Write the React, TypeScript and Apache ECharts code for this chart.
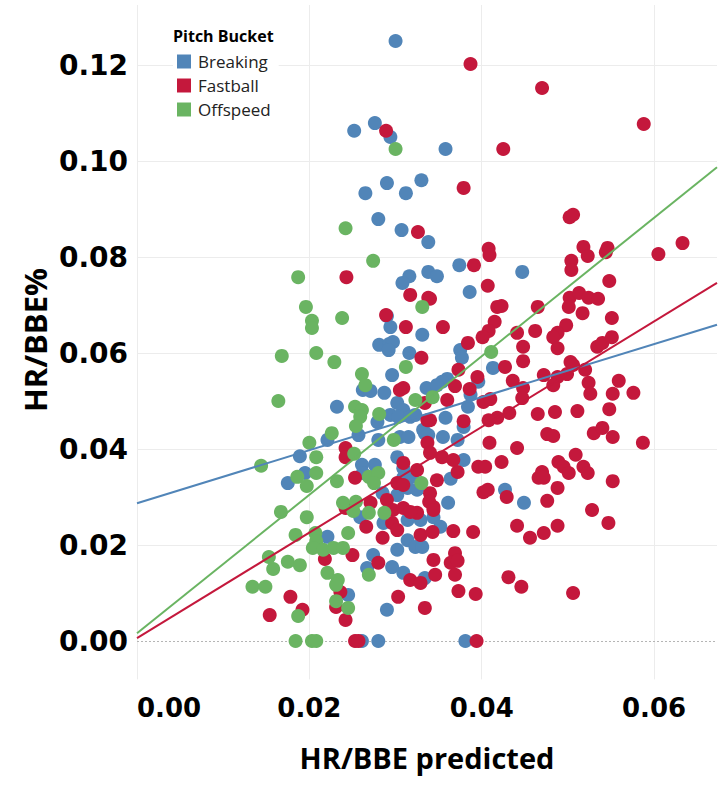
import React, { useEffect, useRef } from "react";
import * as echarts from "echarts";

const seriesNames = ["Breaking", "Fastball", "Offspeed"];
const seriesColors = ["#5185b8", "#c4183c", "#6ab462"];

const xTicks = [0, 0.02, 0.04, 0.06];
const yTicks = [0, 0.02, 0.04, 0.06, 0.08, 0.1, 0.12];
const xRange = [0, 0.0673];
const yRange = [-0.008, 0.1325];

const trendX = [0, 0.0673];
const breakingTrend = [0.0287, 0.0659];
const fastballTrend = [0.0006, 0.0746];
const offspeedTrend = [0.0016, 0.0987];

const breaking = [
  [0.03, 0.125], [0.0252, 0.1063], [0.0276, 0.1079], [0.0294, 0.105],
  [0.0265, 0.0933], [0.029, 0.0954], [0.0312, 0.0933], [0.033, 0.096],
  [0.028, 0.0879], [0.0307, 0.0856], [0.0338, 0.0831], [0.0338, 0.0769],
  [0.0316, 0.076], [0.0308, 0.0746], [0.029, 0.0677], [0.0294, 0.0654],
  [0.0358, 0.1025], [0.0348, 0.076], [0.0374, 0.0783], [0.0386, 0.0727], [0.0447, 0.0769],
  [0.0281, 0.0617], [0.0293, 0.0619], [0.0297, 0.0623], [0.0292, 0.0606], [0.0331, 0.0638],
  [0.0316, 0.06], [0.0296, 0.0554], [0.0262, 0.0523], [0.0271, 0.0521], [0.0287, 0.0517],
  [0.0232, 0.0488], [0.0336, 0.0527], [0.0302, 0.0496], [0.0309, 0.0481], [0.0294, 0.0471],
  [0.0303, 0.0467], [0.0279, 0.0456], [0.0317, 0.0467], [0.0257, 0.0429], [0.0221, 0.0419],
  [0.028, 0.0419], [0.0305, 0.0425], [0.0315, 0.0425], [0.0334, 0.0433], [0.0355, 0.0425],
  [0.0189, 0.0385], [0.0261, 0.0367], [0.0262, 0.035], [0.0276, 0.0367], [0.0195, 0.035],
  [0.0175, 0.0329], [0.0309, 0.036], [0.0302, 0.0383], [0.0309, 0.034], [0.0319, 0.0342],
  [0.0314, 0.0319], [0.0325, 0.0315], [0.0364, 0.0338], [0.0302, 0.0304], [0.0285, 0.0308],
  [0.0361, 0.0288], [0.0259, 0.0258], [0.0314, 0.0252], [0.0329, 0.0252], [0.0286, 0.0246],
  [0.0344, 0.0258], [0.0352, 0.0238], [0.0221, 0.0217], [0.0302, 0.019], [0.0314, 0.021],
  [0.0323, 0.0196], [0.0274, 0.0179], [0.0267, 0.0152], [0.0296, 0.0154], [0.0309, 0.0142],
  [0.0334, 0.0131], [0.0245, 0.0096], [0.029, 0.0065], [0.0261, 0], [0.028, 0], [0.0381, 0],
  [0.0375, 0.0606], [0.0377, 0.059], [0.0413, 0.0569], [0.036, 0.0546], [0.0354, 0.054],
  [0.0396, 0.054], [0.0387, 0.0513], [0.0384, 0.0488], [0.0358, 0.0465], [0.0379, 0.0446],
  [0.0332, 0.044], [0.0338, 0.0429], [0.0372, 0.0419], [0.0379, 0.0377], [0.0427, 0.0315],
  [0.0449, 0.0288], [0.0331, 0.0196], [0.0323, 0.0471], [0.0348, 0.0533],
];

const fastball = [
  [0.0289, 0.1063], [0.0387, 0.1202], [0.047, 0.1152], [0.0588, 0.1077], [0.0425, 0.1025],
  [0.0379, 0.0944], [0.0326, 0.0852], [0.0243, 0.0758], [0.0317, 0.0721], [0.0338, 0.0715],
  [0.0289, 0.0679], [0.0312, 0.0654], [0.0502, 0.0883], [0.0506, 0.0888], [0.0408, 0.0817],
  [0.0409, 0.0804], [0.0391, 0.0783], [0.0518, 0.0821], [0.0523, 0.0802], [0.0544, 0.081],
  [0.0546, 0.0819], [0.0605, 0.0806], [0.0633, 0.0829], [0.0504, 0.0792], [0.0504, 0.0773],
  [0.0548, 0.075], [0.0407, 0.074], [0.034, 0.0713], [0.0418, 0.0696], [0.0423, 0.0698],
  [0.0465, 0.0696], [0.0502, 0.0715], [0.0513, 0.0725], [0.0524, 0.0715], [0.0535, 0.0713],
  [0.0501, 0.0696], [0.0517, 0.0683], [0.0551, 0.0673], [0.0415, 0.0665], [0.0355, 0.0654],
  [0.0498, 0.0658], [0.0462, 0.0646], [0.0408, 0.0646], [0.0488, 0.0642], [0.0441, 0.0642],
  [0.033, 0.059], [0.0309, 0.0527], [0.0305, 0.0523], [0.0334, 0.0496], [0.0337, 0.046],
  [0.0242, 0.0402], [0.0242, 0.0383], [0.0253, 0.034], [0.0325, 0.0356], [0.0309, 0.0371],
  [0.0302, 0.0329], [0.0309, 0.0325], [0.029, 0.0294], [0.0271, 0.0288], [0.0242, 0.0277],
  [0.034, 0.0308], [0.0348, 0.0335], [0.0344, 0.0279], [0.0297, 0.0273], [0.0309, 0.0277],
  [0.0325, 0.0267], [0.0296, 0.0246], [0.0302, 0.0231], [0.0329, 0.0221], [0.0343, 0.0227],
  [0.0266, 0.0238], [0.0285, 0.0215], [0.025, 0.0179], [0.0218, 0.0171], [0.028, 0.0163],
  [0.0344, 0.0169], [0.0178, 0.0092], [0.0192, 0.0065], [0.0154, 0.0054], [0.0231, 0.0071],
  [0.0236, 0.0102], [0.0242, 0.0044], [0.0303, 0.0092], [0.0317, 0.0127], [0.0329, 0.0121],
  [0.0334, 0.0069], [0.0253, 0], [0.0257, 0], [0.0394, 0],
  [0.0401, 0.0633], [0.0384, 0.0621], [0.0483, 0.0633], [0.0448, 0.0613], [0.0488, 0.061],
  [0.0534, 0.0613], [0.054, 0.0621], [0.0551, 0.0633], [0.0373, 0.0565], [0.0427, 0.0571],
  [0.0448, 0.0583], [0.0503, 0.0581], [0.0506, 0.0575], [0.052, 0.0565], [0.0395, 0.055],
  [0.0436, 0.0542], [0.0472, 0.0554], [0.0488, 0.055], [0.0483, 0.0533], [0.0499, 0.0556],
  [0.0524, 0.0538], [0.0526, 0.0515], [0.0559, 0.0542], [0.0369, 0.0531], [0.0386, 0.0525],
  [0.0448, 0.0527], [0.0447, 0.0506], [0.0552, 0.0515], [0.0576, 0.0517], [0.0402, 0.0498],
  [0.041, 0.0504], [0.036, 0.0502], [0.0548, 0.0483], [0.0511, 0.0479], [0.0485, 0.0477],
  [0.0465, 0.0473], [0.0432, 0.0475], [0.0418, 0.0465], [0.0408, 0.046], [0.0379, 0.0458],
  [0.034, 0.046], [0.053, 0.0433], [0.054, 0.0444], [0.0552, 0.0425], [0.0587, 0.0413],
  [0.0476, 0.0431], [0.0483, 0.0427], [0.0441, 0.0402], [0.0409, 0.0413], [0.0337, 0.0413],
  [0.034, 0.0392], [0.0354, 0.0383], [0.0367, 0.0377], [0.0509, 0.0388], [0.0489, 0.0373],
  [0.0495, 0.0363], [0.0501, 0.035], [0.0518, 0.0363], [0.0523, 0.035], [0.0423, 0.0373],
  [0.0396, 0.0363], [0.0404, 0.0363], [0.047, 0.0352], [0.0466, 0.034], [0.0472, 0.034],
  [0.0552, 0.0333], [0.0372, 0.0352], [0.0488, 0.0319], [0.0402, 0.031], [0.0407, 0.0315],
  [0.0429, 0.03], [0.0476, 0.0292], [0.0339, 0.029], [0.0344, 0.0273], [0.0528, 0.0273],
  [0.0547, 0.0246], [0.0441, 0.024], [0.0488, 0.024], [0.0472, 0.0225], [0.0456, 0.0215],
  [0.0367, 0.0229], [0.039, 0.0227], [0.0369, 0.0183], [0.0364, 0.0163], [0.0372, 0.0167],
  [0.0346, 0.0138], [0.0369, 0.0138], [0.0431, 0.0133], [0.0446, 0.0113], [0.0373, 0.0104],
  [0.0393, 0.0098], [0.0506, 0.01], [0.0317, 0.0269],
];

const offspeed = [
  [0.03, 0.1025], [0.0242, 0.086], [0.0274, 0.0792], [0.0187, 0.0758], [0.0196, 0.0696],
  [0.0203, 0.0667], [0.0203, 0.0652], [0.0238, 0.0673], [0.0331, 0.0696], [0.0168, 0.0594],
  [0.0208, 0.06], [0.0229, 0.0581], [0.0164, 0.05], [0.0261, 0.0556], [0.0265, 0.0533],
  [0.0312, 0.0571], [0.0323, 0.0502], [0.0253, 0.0488], [0.0261, 0.0481], [0.0259, 0.0467],
  [0.0254, 0.0448], [0.0226, 0.0433], [0.02, 0.0413], [0.0208, 0.0383], [0.0281, 0.0473],
  [0.0298, 0.0419], [0.0144, 0.0365], [0.0186, 0.0342], [0.0208, 0.035], [0.0197, 0.0323],
  [0.0232, 0.0333], [0.0252, 0.039], [0.0269, 0.0342], [0.028, 0.035], [0.0275, 0.0329],
  [0.033, 0.0329], [0.0239, 0.0288], [0.0254, 0.029], [0.0251, 0.0271], [0.0269, 0.0267],
  [0.0287, 0.0267], [0.0167, 0.0269], [0.0197, 0.0258], [0.0184, 0.0221], [0.0207, 0.0225],
  [0.0208, 0.0208], [0.0204, 0.0194], [0.0216, 0.019], [0.0228, 0.0194], [0.0239, 0.0194],
  [0.0245, 0.0225], [0.0153, 0.0175], [0.0158, 0.015], [0.0175, 0.0165], [0.0189, 0.0158],
  [0.0221, 0.0142], [0.0233, 0.0127], [0.0231, 0.0117], [0.0269, 0.0138], [0.0134, 0.0113],
  [0.0149, 0.0113], [0.0231, 0.0083], [0.0245, 0.0069], [0.0187, 0.0052], [0.0184, 0],
  [0.0203, 0], [0.0208, 0], [0.0411, 0.0602], [0.0343, 0.0508],
];

const pointSets = [breaking, fastball, offspeed];
const trendSets = [breakingTrend, fastballTrend, offspeedTrend];

const isTick = (v: number, ticks: number[]) => ticks.some((t) => Math.abs(t - v) < 1e-7);

export default function App() {
  const ref = useRef<HTMLDivElement>(null);
  useEffect(() => {
    if (!ref.current) return;
    const chart = echarts.init(ref.current, undefined, { renderer: "svg" });
    const gridLineStyle = { color: "#ececec", width: 1, type: "solid" as const };
    const option: any = {
      animation: false,
      backgroundColor: "#ffffff",
      grid: { left: 137, right: 2.5, top: 5, bottom: 111.6, containLabel: false },
      xAxis: {
        type: "value",
        min: xRange[0],
        max: xRange[1],
        splitNumber: 7,
        minInterval: 0.01,
        maxInterval: 0.01,
        axisLine: { show: false },
        axisTick: { show: false },
        splitLine: { show: false },
        axisLabel: {
          margin: 16,
          alignMinLabel: "left",
          fontFamily: "DejaVu Sans",
          fontWeight: "bold",
          fontSize: 26,
          color: "#000",
          formatter: (v: number) => (isTick(v, xTicks) ? v.toFixed(2) : ""),
        },
      },
      yAxis: {
        type: "value",
        min: yRange[0],
        max: yRange[1],
        splitNumber: 14,
        minInterval: 0.01,
        maxInterval: 0.01,
        axisLine: { show: false },
        axisTick: { show: false },
        splitLine: { show: false },
        axisLabel: {
          margin: 9,
          padding: [6, 0, 0, 0],
          fontFamily: "DejaVu Sans",
          fontWeight: "bold",
          fontSize: 28,
          color: "#000",
          formatter: (v: number) => (isTick(v, yTicks) ? v.toFixed(2) : ""),
        },
      },
      legend: {
        data: seriesNames,
        orient: "vertical",
        left: 173,
        top: 50,
        z: 10,
        itemWidth: 14,
        itemHeight: 14,
        itemGap: 7,
        icon: "rect",
        selectedMode: false,
        backgroundColor: "#ffffff",
        padding: [3, 8, 3, 4],
        textStyle: { fontFamily: "Open Sans", fontSize: 17, color: "#222", lineHeight: 17, padding: [0, 0, 0, 2] },
      },
      graphic: [
        {
          type: "text",
          left: 173,
          top: 28,
          z: 10,
          style: { text: "Pitch Bucket", fontFamily: "Open Sans", fontWeight: "bold", fontSize: 16, fill: "#000" },
        },
        {
          type: "text",
          x: 427,
          y: 757,
          style: {
            text: "HR/BBE predicted",
            fontFamily: "Open Sans",
            fontWeight: "bold",
            fontSize: 29,
            fill: "#000",
            align: "center",
            verticalAlign: "middle",
          },
        },
        {
          type: "text",
          x: 35,
          y: 340,
          rotation: Math.PI / 2,
          style: {
            text: "HR/BBE%",
            fontFamily: "Open Sans",
            fontWeight: "bold",
            fontSize: 31,
            fill: "#000",
            align: "center",
            verticalAlign: "middle",
          },
        },
      ],
      series: [
        {
          name: "gridlines",
          type: "scatter",
          data: [],
          z: 0,
          silent: true,
          markLine: {
            silent: true,
            z: 0,
            symbol: "none",
            label: { show: false },
            lineStyle: gridLineStyle,
            data: [
              ...xTicks.map((v) => ({ xAxis: v })),
              ...yTicks.filter((v) => v !== 0).map((v) => ({ yAxis: v })),
              { yAxis: 0, lineStyle: { color: "#b5b5b5", width: 1, type: [2, 2] } },
            ],
          },
        },
        ...pointSets.map((pts, i) => ({
          name: seriesNames[i],
          type: "scatter",
          data: pts,
          symbol: "circle",
          symbolSize: 14,
          z: 2,
          itemStyle: { color: seriesColors[i], opacity: 1 },
        })),
        ...trendSets.map((tr, i) => ({
          name: seriesNames[i] + " trend",
          type: "line",
          data: [
            [trendX[0], tr[0]],
            [trendX[1], tr[1]],
          ],
          symbol: "none",
          z: 5,
          silent: true,
          lineStyle: { color: seriesColors[i], width: 2 },
        })),
      ],
    };
    chart.setOption(option);
    return () => chart.dispose();
  }, []);
  return (
    <div
      ref={ref}
      style={{ position: "absolute", left: 0, top: 0, width: 720, height: 791, background: "#fff" }}
    />
  );
}
